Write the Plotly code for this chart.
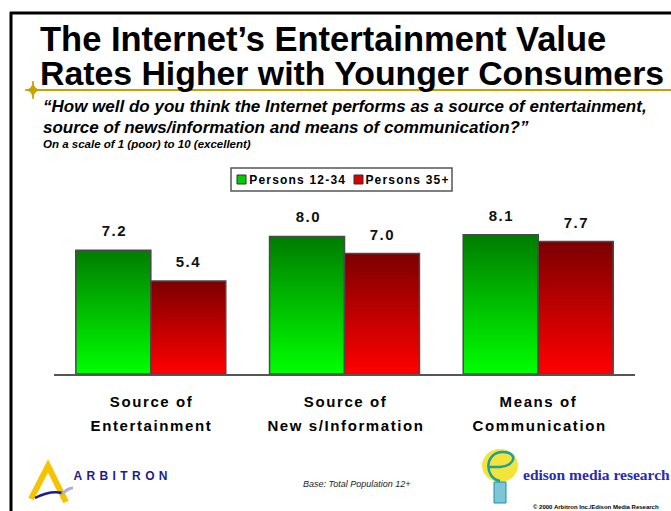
import json
import plotly.graph_objects as go

# ---- data -------------------------------------------------------------
categories = ["Source of Entertainment", "Source of News/Information", "Means of Communication"]
category_lines = [("Source of", "Entertainment"),
                  ("Source of", "New s/Information"),
                  ("Means of", "Communication")]
series_names = ["Persons 12-34", "Persons 35+"]
persons_12_34 = [7.2, 8.0, 8.1]
persons_35_plus = [5.4, 7.0, 7.7]

# ---- page geometry (pixels) --------------------------------------------
W, H = 671, 511
L, R, T, B = 54, 635, 202, 374          # plot area edges
PW, PH = R - L, B - T


def xp(x):
    return (x - L) / PW


def yp(y):
    return (B - y) / PH


FONT = "Arial, Liberation Sans, sans-serif"
BAR_W = 0.387
N_SLICES = 80

# top / bottom colours of the vertical gradient of each series
gradients = [((0, 125, 0), (0, 255, 0)), ((125, 0, 0), (255, 0, 0))]
values = [persons_12_34, persons_35_plus]
offsets = [-BAR_W, 0.0]


def mix(c_top, c_bot, t):
    return "rgb({},{},{})".format(*[round(b + (a - b) * t) for a, b in zip(c_top, c_bot)])


fig = go.Figure()

for s, vals in enumerate(values):
    top, bot = gradients[s]
    # each slice runs from its own base up to the bar top; later slices cover
    # the upper part, which builds a seamless bottom-to-top gradient
    for i in range(N_SLICES):
        t = i / (N_SLICES - 1)
        fig.add_trace(go.Bar(
            x=categories,
            y=[v * (N_SLICES - i) / N_SLICES for v in vals],
            base=[v * i / N_SLICES for v in vals],
            offset=offsets[s], width=BAR_W,
            marker=dict(color=mix(top, bot, t), line=dict(width=0)),
            name=series_names[s], showlegend=False, hoverinfo="skip",
        ))
    # outline of the whole bar
    fig.add_trace(go.Bar(
        x=categories, y=vals, offset=offsets[s], width=BAR_W,
        marker=dict(color="rgba(0,0,0,0)", line=dict(color="#4a4a4a", width=1.5)),
        name=series_names[s], showlegend=False, hoverinfo="skip",
    ))

annotations = []
spacing = {}   # letter spacing (px) applied to a text after rendering

# value labels above the bars
for s, vals in enumerate(values):
    for i, v in enumerate(vals):
        label = f"{v:.1f}"
        annotations.append(dict(
            x=i + offsets[s] + BAR_W / 2, y=v, xref="x", yref="y",
            text=f"<b>{label}</b>", showarrow=False, yanchor="bottom", yshift=9,
            xshift=1,
            font=dict(family=FONT, size=15, color="#111"),
        ))
        spacing[label] = 1.5

# category labels under the axis
for i, (l1, l2) in enumerate(category_lines):
    for k, line in enumerate((l1, l2)):
        annotations.append(dict(
            x=i, y=0, xref="x", yref="y", text=f"<b>{line}</b>", showarrow=False,
            yanchor="middle", yshift=-27 - 24 * k, xshift=1,
            font=dict(family=FONT, size=15, color="#000"),
        ))
        spacing[line] = 1.6


def page_text(x, y, text, size, color="#000", anchor="left", family=FONT):
    annotations.append(dict(
        x=xp(x), y=yp(y), xref="paper", yref="paper", text=text, showarrow=False,
        xanchor=anchor, yanchor="middle", font=dict(family=family, size=size, color=color),
    ))


# title and question
page_text(38, 39, "<b>The Internet’s Entertainment Value</b>", 34.5)
page_text(38, 73, "<b>Rates Higher with Younger Consumers</b>", 33.8)
page_text(41, 107, "<b><i>“How well do you think the Internet performs as a source of entertainment,</i></b>", 17)
page_text(41, 128, "<b><i>source of news/information and means of communication?”</i></b>", 17)
page_text(41, 144, "<b><i>On a scale of 1 (poor) to 10 (excellent)</i></b>", 11.5)

# legend
legend_colors = ["#00cc00", "#dd0000"]
legend_x = [237, 354]
legend_text_mid = [298, 408]
for s, name in enumerate(series_names):
    page_text(legend_text_mid[s], 180, f"<b>{name}</b>", 12, anchor="center")
    spacing[name] = 1.2

# footer
page_text(357, 484, "<i>Base: Total Population 12+</i>", 9, color="#222", anchor="center")
page_text(122, 476, "<b>ARBITRON</b>", 12, color="#1c1c8c", anchor="center")
spacing["ARBITRON"] = 4.4
page_text(521, 474, "<b>edison media research</b>", 15.5, color="#2a2ab4",
          family="Liberation Serif, Times New Roman, serif")
page_text(531, 507, "<b>© 2000 Arbitron Inc./Edison Media Research</b>", 6)


def seg(x0, y0, x1, y1, color, width):
    return dict(type="line", xref="paper", yref="paper",
                x0=xp(x0), y0=yp(y0), x1=xp(x1), y1=yp(y1),
                line=dict(color=color, width=width))


def box(x0, y0, x1, y1, fill, color, width):
    return dict(type="rect", xref="paper", yref="paper",
                x0=xp(x0), y0=yp(y0), x1=xp(x1), y1=yp(y1),
                fillcolor=fill, line=dict(color=color, width=width))


def curve(cmd, pts):
    # one path command holding all of its points
    return cmd + " ".join(f"{xp(a):.5f},{yp(b):.5f}" for a, b in pts)


def path_shape(d, color, width, fill=None):
    shp = dict(type="path", xref="paper", yref="paper", path=d,
               line=dict(color=color, width=width))
    if fill:
        shp["fillcolor"] = fill
    return shp


star_d = " ".join([
    curve("M", [(33, 81)]),
    curve("Q", [(33, 90), (41, 90)]),
    curve("Q", [(33, 90), (33, 99)]),
    curve("Q", [(33, 90), (25, 90)]),
    curve("Q", [(33, 90), (33, 81)]),
    "Z",
])
arbitron_a_d = " ".join([curve("M", [(31, 499)]), curve("L", [(48, 466)]), curve("L", [(66, 502)])])
swoosh_d = " ".join([curve("M", [(35, 498)]), curve("Q", [(50, 490), (63, 493)])])
feather_d = " ".join([curve("M", [(62, 494)]), curve("Q", [(68, 488), (73, 488)])])
bulb_d = " ".join([
    curve("M", [(500, 481)]),
    curve("C", [(484, 478), (484, 452), (503, 452)]),
    curve("C", [(518, 452), (516, 466), (500, 467)]),
    curve("L", [(489, 467)]),
])

shapes = [
    seg(10, 13, 671, 13, "#000", 3),          # page frame, top
    seg(11, 12, 11, 515, "#000", 3),          # page frame, left
    seg(27, 90, 671, 90, "#c8a200", 2),       # rule under the title
    path_shape(star_d, "#c8a200", 1, fill="#c8a200"),
    # legend frame and swatches
    box(231, 168, 452, 191, "white", "#555", 1.5),
    box(legend_x[0], 175, legend_x[0] + 9, 184, legend_colors[0], "#333", 1),
    box(legend_x[1], 175, legend_x[1] + 9, 184, legend_colors[1], "#333", 1),
    # Arbitron mark
    path_shape(arbitron_a_d, "#f5c400", 6),
    path_shape(swoosh_d, "#1c1c8c", 2.5),
    path_shape(feather_d, "#aab0d8", 3),
    # Edison bulb
    dict(type="circle", xref="paper", yref="paper", x0=xp(482), y0=yp(449), x1=xp(518), y1=yp(482),
         fillcolor="#f2e43a", line=dict(width=0)),
    path_shape(bulb_d, "#1aa0a0", 2.5),
    box(494, 482, 506, 503, "#7cc6d8", "#1a90b0", 1),
]

fig.update_layout(
    width=W, height=H, autosize=False,
    margin=dict(l=L, r=W - R, t=T, b=H - B, pad=0),
    paper_bgcolor="white", plot_bgcolor="white",
    barmode="overlay",
    showlegend=False,
    xaxis=dict(type="category", categoryarray=categories, range=[-0.5, 2.5],
               showline=True, linecolor="#555", linewidth=1.5,
               showticklabels=False, ticks="", showgrid=False, zeroline=False, fixedrange=True),
    yaxis=dict(range=[0, 10], visible=False, showgrid=False, zeroline=False, fixedrange=True),
    annotations=annotations,
    shapes=shapes,
    hovermode=False,
)

# widen the tracking of the spaced-out labels once the figure is drawn
post_js = """
var gd = document.getElementById('{plot_id}');
var sp = %s;
function track() {
  gd.querySelectorAll('text.annotation-text').forEach(function (t) {
    var k = t.textContent;
    if (sp.hasOwnProperty(k)) { t.style.letterSpacing = sp[k] + 'px'; }
  });
}
track();
if (gd.on) { gd.on('plotly_afterplot', track); }
""" % json.dumps(spacing)

fig.write_html("out.html", config={"displayModeBar": False}, post_script=post_js)
